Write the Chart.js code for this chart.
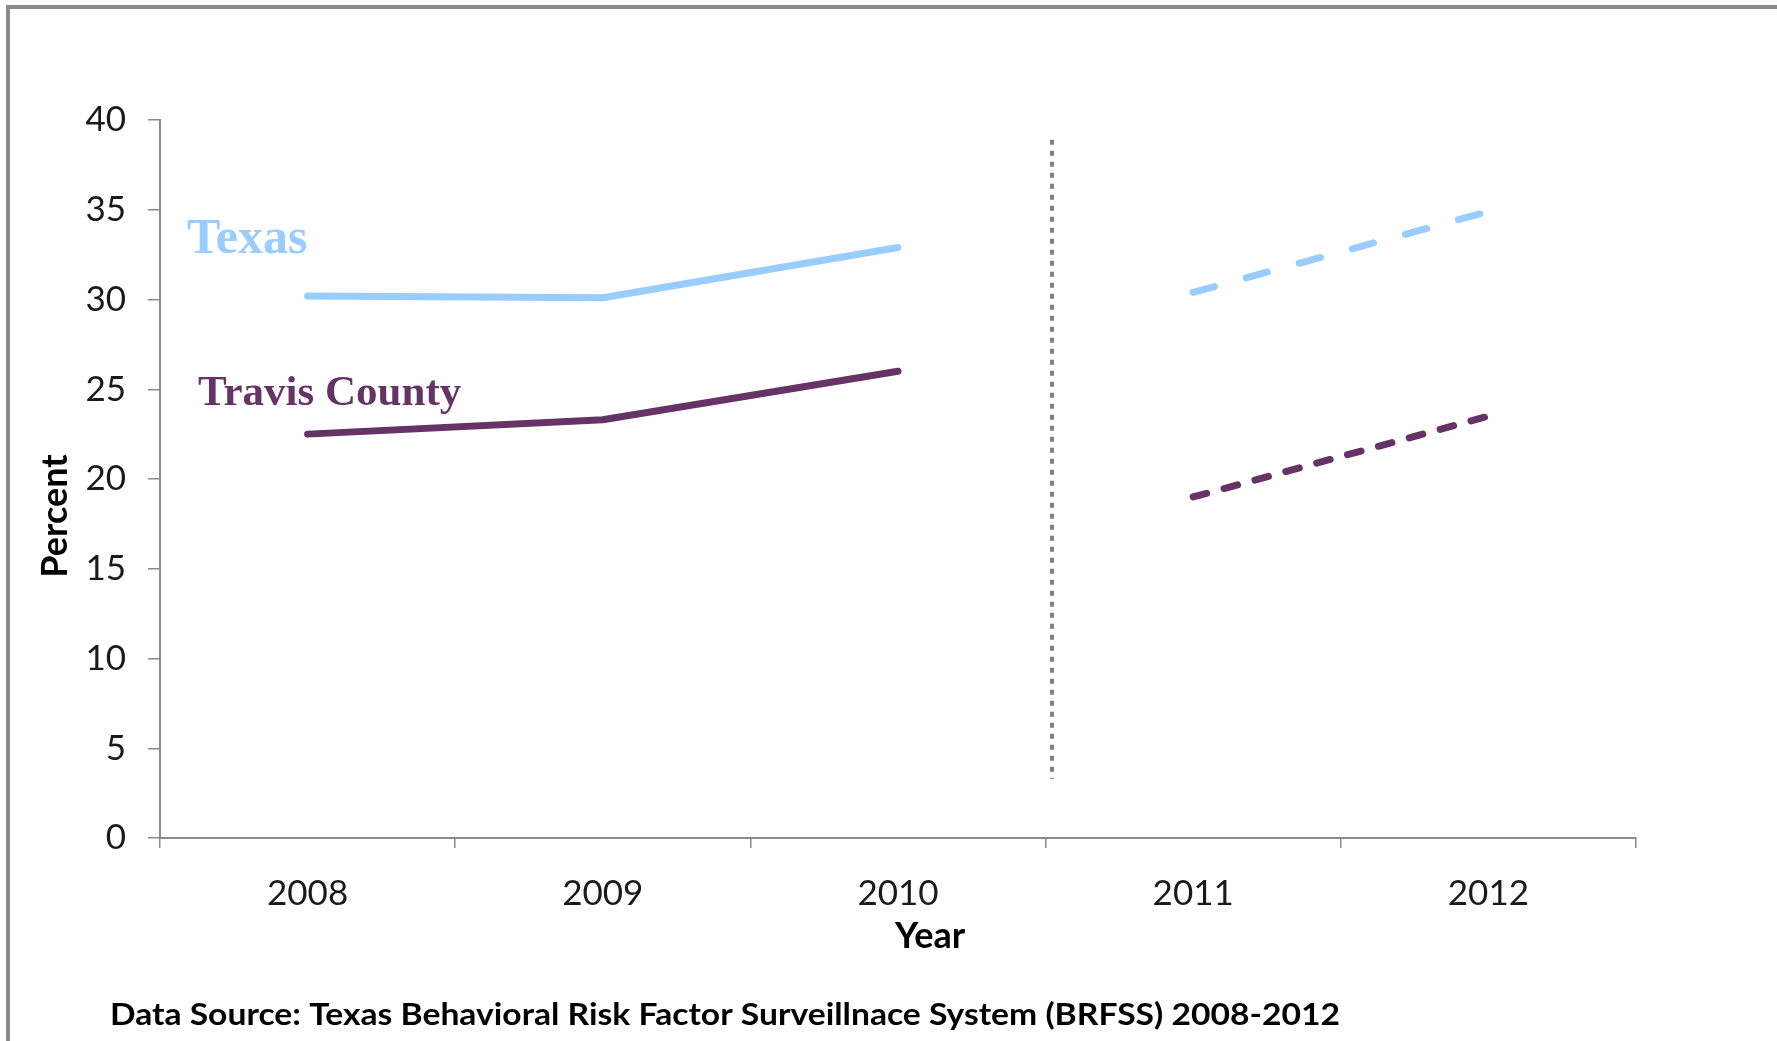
<!DOCTYPE html>
<html>
<head>
<meta charset="utf-8">
<script src="https://cdn.jsdelivr.net/npm/chart.js@4/dist/chart.umd.min.js"></script>
<style>
  html, body { margin: 0; padding: 0; background: #fff; }
  #wrap { position: relative; width: 1777px; height: 1041px; overflow: hidden; background: #fff; }
  #frame { position: absolute; left: 6px; top: 5px; right: -20px; bottom: -20px;
           border-top: 4px solid #8a8a8a; border-left: 4px solid #8a8a8a; pointer-events: none; }
  canvas { position: absolute; left: 0; top: 0; }
</style>
</head>
<body>
<div id="wrap">
  <canvas id="chart" width="1777" height="1041"></canvas>
  <div id="frame"></div>
</div>
<script>
// Years on the category axis
const years = ['2008', '2009', '2010', '2011', '2012'];

// Adults, percent: 2008-2010 (solid) and 2011-2012 (dashed, new methodology)
const texasSolid  = [30.2, 30.1, 32.9, null, null];
const texasDashed = [null, null, null, 30.4, 34.9];
const travisSolid  = [22.5, 23.3, 26.0, null, null];
const travisDashed = [null, null, null, 19.0, 23.5];

// Y axis range and step
const yMin = 0, yMax = 40, yStep = 5;

// Series names drawn next to the lines
const seriesNames = ['Texas', 'Travis County'];
const sourceNote = 'Data Source: Texas Behavioral Risk Factor Surveillnace System (BRFSS) 2008-2012';

const TEXAS_BLUE = '#99CCFF';
const TRAVIS_PURPLE = '#663366';
const AXIS_GREY = '#8a8a8a';

// Dotted divider between the two survey periods (category position and value span)
const dividerAt = 2.52;
const dividerTop = 38.9, dividerBottom = 3.3;

const annotations = {
  id: 'annotations',
  beforeDatasetsDraw(chart) {
    const { ctx, scales: { x, y } } = chart;
    const px = Math.round(x.getPixelForValue(dividerAt));
    ctx.save();
    ctx.strokeStyle = '#808080';
    ctx.lineWidth = 4;
    ctx.setLineDash([5, 6]);
    ctx.beginPath();
    ctx.moveTo(px, y.getPixelForValue(dividerTop));
    ctx.lineTo(px, y.getPixelForValue(dividerBottom));
    ctx.stroke();
    ctx.restore();
  },
  afterDraw(chart) {
    const { ctx, chartArea, scales: { y } } = chart;
    ctx.save();
    ctx.textBaseline = 'alphabetic';

    // series names
    ctx.textAlign = 'left';
    ctx.fillStyle = TEXAS_BLUE;
    ctx.font = 'bold 50px "Liberation Serif", "Times New Roman", serif';
    ctx.fillText(seriesNames[0], chartArea.left + 27, y.getPixelForValue(32.6));
    ctx.fillStyle = TRAVIS_PURPLE;
    ctx.font = 'bold 43px "Liberation Serif", "Times New Roman", serif';
    ctx.fillText(seriesNames[1], chartArea.left + 38, y.getPixelForValue(24.1));

    // axis titles
    ctx.fillStyle = '#000';
    ctx.font = 'bold 36px Lato, "Open Sans", sans-serif';
    ctx.textAlign = 'center';
    ctx.fillText('Year', 930, 948);

    ctx.save();
    ctx.translate(67, 516);
    ctx.rotate(-Math.PI / 2);
    ctx.fillText('Percent', 0, 0);
    ctx.restore();

    // source note, condensed to its line width
    ctx.font = 'bold 31px Lato, "Open Sans", sans-serif';
    ctx.textAlign = 'left';
    const w = ctx.measureText(sourceNote).width;
    const target = 1230;
    ctx.save();
    ctx.translate(110, 1025);
    ctx.scale(target / w, 1);
    ctx.fillText(sourceNote, 0, 0);
    ctx.restore();

    ctx.restore();
  }
};

const lineStyle = (data, color, dash, width) => ({
  data,
  borderColor: color,
  backgroundColor: color,
  borderWidth: width,
  borderDash: dash,
  borderCapStyle: 'round',
  borderJoinStyle: 'round',
  pointRadius: 0,
  pointHoverRadius: 0,
  spanGaps: false,
  tension: 0,
  fill: false
});

new Chart(document.getElementById('chart'), {
  type: 'line',
  data: {
    labels: years,
    datasets: [
      lineStyle(texasSolid, TEXAS_BLUE, [], 7),
      lineStyle(texasDashed, TEXAS_BLUE, [22, 33], 7),
      lineStyle(travisSolid, TRAVIS_PURPLE, [], 7),
      lineStyle(travisDashed, TRAVIS_PURPLE, [14, 18], 7)
    ]
  },
  options: {
    responsive: false,
    animation: false,
    events: [],
    layout: { padding: { left: 0, right: 141, top: 120, bottom: 0 } },
    plugins: { legend: { display: false }, tooltip: { enabled: false } },
    scales: {
      x: {
        type: 'category',
        offset: true,
        grid: { offset: true, drawOnChartArea: false, drawTicks: true, tickLength: 10, color: AXIS_GREY, lineWidth: 1.5 },
        border: { color: AXIS_GREY, width: 2 },
        ticks: { font: { family: 'Lato', size: 35 }, color: '#1a1a1a', padding: 25, maxRotation: 0, autoSkip: false },
        afterFit(scale) { scale.height = 203; }
      },
      y: {
        min: yMin,
        max: yMax,
        grid: { drawOnChartArea: false, drawTicks: true, tickLength: 12, color: AXIS_GREY, lineWidth: 1.5 },
        border: { color: AXIS_GREY, width: 2 },
        ticks: { stepSize: yStep, font: { family: 'Lato', size: 35 }, color: '#1a1a1a', padding: 22 },
        afterFit(scale) { scale.width = 160; }
      }
    }
  },
  plugins: [annotations]
});
</script>
</body>
</html>
